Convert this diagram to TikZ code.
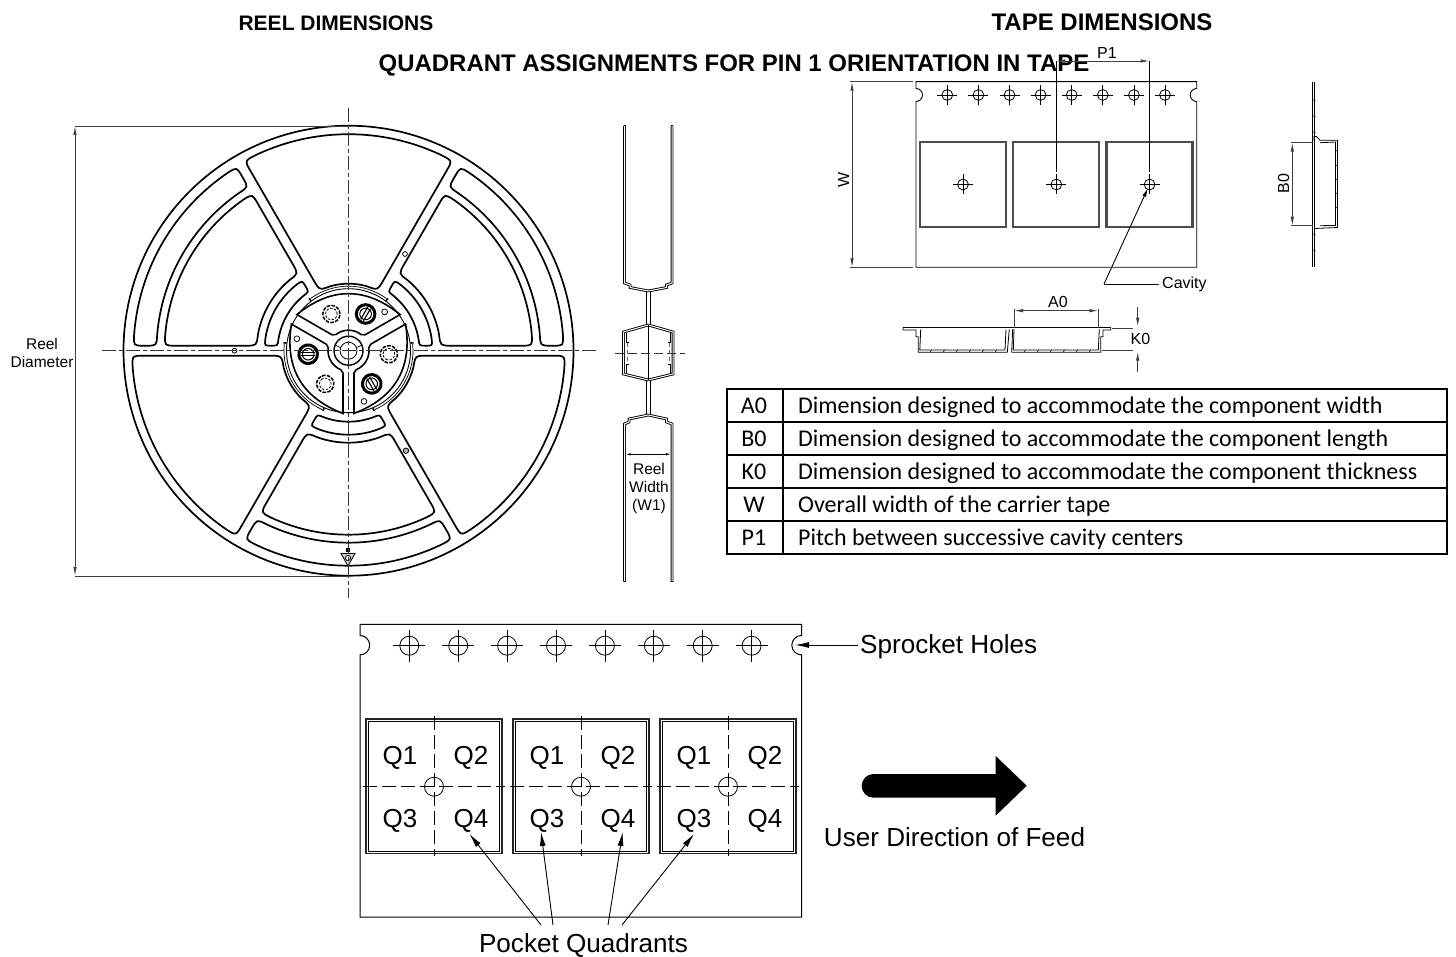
\documentclass[tikz,border=0pt]{standalone}
\usepackage{fontspec}
\setmainfont{Liberation Sans}
\newfontfamily\tablefont{Carlito}
\usetikzlibrary{arrows.meta}
\newcommand{\fs}[1]{\fontsize{#1}{#1}\selectfont}
\tikzset{
  wheel/.style={line width=1.7pt,black},
  thinl/.style={line width=.8pt,black},
  dimline/.style={line width=.9pt,black!75},
  dimboth/.style={dimline,{Latex[length=9pt,width=3.5pt]}-{Latex[length=9pt,width=3.5pt]}},
  dimtip/.style={dimline,-{Latex[length=9pt,width=3.5pt]}},
  callout/.style={line width=.9pt,black,-{Latex[length=14pt,width=6pt]}},
  centreline/.style={line width=.9pt,black!80,dash pattern=on 14pt off 3pt on 4pt off 3pt},
  pocketdash/.style={line width=.9pt,black,dash pattern=on 14pt off 5pt},
  flange/.style={line width=.9pt,double=white,double distance=1pt,black},
  small/.style={font=\fs{16}},
  smaller/.style={font=\fs{15.5},align=center},
  large/.style={font=\fs{26.1}},
  quad/.style={font=\fs{26}},
  titlehead/.style={font=\bfseries\fs{#1}},
  cell/.style={font=\tablefont\fs{24},anchor=west},
}
% rounded window between two spoke directions
\newcommand{\sectorwin}[6]{%
  \pgfmathsetmacro\aso{#1+asin(#5/(#3-#6))}%
  \pgfmathsetmacro\aco{#1+asin(#5/#3)}%
  \pgfmathsetmacro\aao{\aco+57.3*#6/#3}%
  \pgfmathsetmacro\bso{#2-asin(#5/(#3-#6))}%
  \pgfmathsetmacro\bco{#2-asin(#5/#3)}%
  \pgfmathsetmacro\bao{\bco-57.3*#6/#3}%
  \pgfmathsetmacro\asi{#1+asin(#5/(#4+#6))}%
  \pgfmathsetmacro\aci{#1+asin(#5/#4)}%
  \pgfmathsetmacro\aai{\aci+57.3*#6/#4}%
  \pgfmathsetmacro\bsi{#2-asin(#5/(#4+#6))}%
  \pgfmathsetmacro\bci{#2-asin(#5/#4)}%
  \pgfmathsetmacro\bai{\bci-57.3*#6/#4}%
  \pgfmathsetmacro\rom{#3-#6}\pgfmathsetmacro\rip{#4+#6}%
  \draw[wheel] (\aso:\rom) .. controls (\aco:#3) .. (\aao:#3)
    arc[start angle=\aao,end angle=\bao,radius=#3 pt]
    .. controls (\bco:#3) .. (\bso:\rom) -- (\bsi:\rip)
    .. controls (\bci:#4) .. (\bai:#4)
    arc[start angle=\bai,end angle=\aai,radius=#4 pt]
    .. controls (\aci:#4) .. (\asi:\rip) -- cycle;
}
\newcommand{\hole}[4]{%
  \draw[thinl] (#1,#2) circle[radius=#3 pt];
  \draw[thinl] (#1-#4,#2) -- (#1+#4,#2) (#1,#2-#4) -- (#1,#2+#4);
}
\begin{document}
\begin{tikzpicture}[x=1pt,y=-1pt]
\useasboundingbox (0,0) rectangle (1456,957);
\fill[white] (0,0) rectangle (1456,957);

% ---------- titles
\node[titlehead=21] (treel) at (336,23) {REEL DIMENSIONS};
\node[titlehead=24] (ttape) at (1102,22) {TAPE DIMENSIONS};
\node[titlehead=23.95] (tquad) at (734,65) {QUADRANT ASSIGNMENTS FOR PIN 1 ORIENTATION IN TAPE};

% ---------- reel front view
\begin{scope}[shift={(348.5,350.7)},y=1pt]
  \draw[wheel] (0,0) circle[radius=225pt];
  \foreach \s in {60,180,300}{
    \sectorwin{\s}{\s+60}{216.5}{67}{5}{12}
  }
  \foreach \s in {0,120,240}{
    \sectorwin{\s}{\s+60}{215}{192}{5}{10.5}
    \sectorwin{\s}{\s+60}{184}{92}{5}{11}
    \sectorwin{\s}{\s+60}{84}{71}{5}{6.4}
  }
  \draw[line width=.9pt] (0,0) circle[radius=62pt];
  \foreach \r in {0,120,240}{
    \begin{scope}[rotate=\r]
      \draw[line width=.7pt] (54:64.5) arc[start angle=54,end angle=126,radius=64.5pt];
      \draw[line width=1.6pt] (53:62.5) -- (53:65.5) (127:62.5) -- (127:65.5);
      % lobe
      \draw[line width=1.6pt] (35:63) -- (43.8:23) -- (52:20.5)
        arc[start angle=52,end angle=128,radius=20.5pt]
        -- (136.2:23) -- (145:63)
        .. controls (-17.2,64) and (17.2,64) .. cycle;
      % gear ring
      \draw[line width=1.5pt,dash pattern=on 3.6pt off 1.3pt] (115:40.5) circle[radius=8.6pt];
      \draw[line width=.8pt,dash pattern=on 2.5pt off 1.4pt] (115:40.5) circle[radius=5.8pt];
      % screw
      \draw[line width=3pt] (65:40.5) circle[radius=9.3pt];
      \begin{scope}[shift={(65:40.5)},rotate=60]
        \draw[line width=1.1pt] (-7,1.6) -- (7,1.6) (-7,-1.6) -- (7,-1.6);
        \draw[line width=1pt] (0,0) circle[radius=5.8pt];
      \end{scope}
      % small circle
      \draw[line width=.8pt] (47:53) circle[radius=2.9pt];
    \end{scope}
  }
  % hub centre
  \draw[line width=1.4pt] (0,0) circle[radius=14.5pt];
  \draw[line width=.8pt] (0,0) circle[radius=8.5pt];
  \draw[line width=.7pt] (-14,6) -- (-8,3) (14,6) -- (8,3) (0,-14) -- (0,-8);
  % small markers on the spokes
  \draw[line width=.8pt,fill=white] (180:114) circle[radius=2.4pt];
  \draw[line width=.8pt,fill=black!30] (57.5,-100) circle[radius=2.7pt];
  \draw[line width=.8pt,fill=white] (56.5,96.7) circle[radius=2.4pt];
\end{scope}

% recycle mark
\draw[thinl,fill=black!20] (341,553.5) -- (355,553.5) -- (348,566) -- cycle;
\fill (346,547.5) rectangle (350,552);
\draw[thinl,fill=white] (348,558) circle[radius=2.6pt];

% centre lines
\coordinate (cvt) at (348.5,108); \coordinate (cvb) at (348.5,598);
\coordinate (chl) at (102,350.7); \coordinate (chr) at (597,350.7);
\draw[centreline] (cvt) -- (cvb);
\draw[centreline] (chl) -- (chr);

% reel diameter
\coordinate (dta) at (75,126); \coordinate (dtb) at (348.5,126);
\coordinate (dba) at (75,576); \coordinate (dbb) at (348.5,576);
\draw[dimline] (dta) -- (dtb) (dba) -- (dbb);
\draw[dimboth] (dta) -- (dba);
\node[smaller] (reeldia) at (42,353) {Reel\\[2pt]Diameter};

% ---------- reel side profile
\draw[flange] (624.5,126) -- (624.5,283) -- (630,285) -- (630,287.5) -- (648.3,291);
\draw[flange] (672,126) -- (672,283) -- (666.5,285) -- (666.5,287.5) -- (648.3,291);
\draw[line width=1pt] (646.7,291) -- (646.7,325) (650,291) -- (650,325);
\draw[flange] (648.3,325) -- (623.5,332) -- (623.5,374) -- (648.3,380);
\draw[flange] (648.3,325) -- (673,332) -- (673,374) -- (648.3,380);
\draw[line width=1pt] (648.3,325) -- (648.3,380);
\draw[thinl] (626.5,333) -- (626.5,342) -- (629,342) (626.5,373) -- (626.5,364) -- (629,364);
\draw[thinl] (670,333) -- (670,342) -- (667.5,342) (670,373) -- (670,364) -- (667.5,364);
\draw[line width=.7pt,black!60,dash pattern=on 4pt off 3pt] (627,343) -- (627,364) (669.5,343) -- (669.5,364);
\draw[line width=1pt] (646.7,380) -- (646.7,415) (650,380) -- (650,415);
\draw[flange] (648.3,415) -- (629,419) -- (629,422) -- (624.5,424) -- (624.5,581.5);
\draw[flange] (648.3,415) -- (666.5,419) -- (666.5,422) -- (672,424) -- (672,581.5);
\draw[line width=1pt] (623.5,126) -- (625.5,126) (671,126) -- (673,126);
\draw[line width=1pt] (623.5,581.5) -- (625.5,581.5) (671,581.5) -- (673,581.5);
% centre line through the profile
\coordinate (pl) at (615,353); \coordinate (pr) at (685,353);
\draw[line width=.9pt,black!80,dash pattern=on 9pt off 4pt] (pl) -- (pr);
% reel width
\coordinate (rwa) at (625.7,454.3); \coordinate (rwb) at (671,454.3);
\draw[line width=.9pt,{Latex[length=5pt,width=2.5pt]}-{Latex[length=5pt,width=2.5pt]}] (rwa) -- (rwb);
\node[smaller] (reelw) at (649,488.5) {Reel\\[2.4pt]Width\\[2.4pt](W1)};

% ---------- upper tape
\draw[line width=.9pt] (916,88.5) -- (916,81.7) -- (1196.7,81.7) -- (1196.7,88.5)
   arc[start angle=90,end angle=270,radius=6.5pt] -- (1196.7,267.3) -- (916,267.3) -- (916,101.5)
   arc[start angle=-90,end angle=90,radius=6.5pt];
\foreach \x in {947.3,978.4,1009.5,1040.6,1071.7,1102.8,1133.9,1165}{\hole{\x}{95}{5.4}{10}}
\foreach \a in {920,1013.3,1106.5}{
  \draw[line width=2.1pt,black!70] (\a,142.3) rectangle ++(86,84.4);
}
\hole{963}{184.5}{5.4}{10}
\hole{1056.3}{184.5}{5.4}{10}
\hole{1149.6}{184.5}{5.4}{10}
% P1
\coordinate (p1a) at (1056.3,61); \coordinate (p1b) at (1149.6,61);
\coordinate (p1ae) at (1056.3,172); \coordinate (p1be) at (1149.6,172);
\draw[thinl] (p1a) -- (p1ae) (p1b) -- (p1be);
\draw[dimboth] (p1a) -- (p1b);
\node[small] (p1t) at (1107,53) {P1};
% W
\coordinate (wa) at (852,81.7); \coordinate (wb) at (852,267.3);
\coordinate (wae) at (913,81.7); \coordinate (wbe) at (913,267.3);
\draw[dimline] (850,81.7) -- (wae) (850,267.3) -- (wbe);
\draw[dimboth] (wa) -- (wb);
\node[small,rotate=90] (wt) at (843.5,180) {W};
% cavity
\node[small,anchor=west,inner sep=3pt] (cav) at (1159,284) {Cavity};
\coordinate (cavk) at (1104,284); \coordinate (cavtip) at (1148,188);
\draw[thinl] (cav.west) -- (cavk);
\draw[line width=.9pt,-{Latex[length=9pt,width=4pt]}] (cavk) -- (cavtip);

% ---------- B0 side view
\draw[line width=1.2pt,double=white,double distance=.5pt] (1313.3,81.7) -- (1313.3,266.7);
\foreach \y in {100,116,132,234,250}{\draw[line width=.6pt] (1313.3,\y) -- (1315.5,\y+1);}
\draw[thinl] (1314,140.7) -- (1314,136.5) -- (1316.5,136.5) -- (1320,140.3) -- (1337.5,140.3) -- (1337.5,227.5) -- (1315,228.5);
\draw[thinl] (1320,142.7) -- (1335.5,142) -- (1335.5,225.5) -- (1320,225.7);
\foreach \y in {150,165,179,193,207}{\draw[line width=.6pt] (1335.5,\y) -- (1337.5,\y+1);}
\coordinate (ba) at (1292.3,142.7); \coordinate (bb) at (1292.3,225.7);
\draw[dimline] (1290.5,142.7) -- (1313,142.7) (1290.5,225.7) -- (1313,225.7);
\draw[dimboth] (ba) -- (bb);
\node[small,rotate=90] (b0t) at (1283.5,183.3) {B0};

% ---------- A0 / K0 section
\draw[thinl] (903,327.7) -- (1110.7,327.7);
\draw[thinl] (903,327.7) -- (903,330) -- (916,330) -- (916,336.7) -- (918.3,336.7) -- (918.3,352.3) -- (1007.3,352.3) -- (1009.3,329.3);
\draw[thinl] (920.7,329.3) -- (919.8,350) -- (1005,350) -- (1006,329.3);
\draw[thinl] (1012.7,329) -- (1011.7,352.3) -- (1100.7,352.3) -- (1100.7,336.7) -- (1103,336.7) -- (1103,330) -- (1110.7,330) -- (1110.7,327.7);
\draw[thinl] (1014,329) -- (1013.3,350) -- (1098.3,350) -- (1099.3,329);
\foreach \x in {930,943,956,969,982,995}{\draw[line width=.6pt] (\x,352.3) -- (\x+1.5,350);}
\foreach \x in {1024,1037,1050,1063,1076,1089}{\draw[line width=.6pt] (\x,352.3) -- (\x+1.5,350);}
\coordinate (a0a) at (1014,310.7); \coordinate (a0b) at (1098.3,310.7);
\draw[dimline] (1014,309) -- (1014,328) (1098.3,309) -- (1098.3,328);
\draw[dimboth] (a0a) -- (a0b);
\node[small] (a0t) at (1058,302) {A0};
\coordinate (k0s) at (1137.7,306.7); \coordinate (k0t) at (1137.7,326.7);
\coordinate (k0u) at (1137.7,371.7); \coordinate (k0v) at (1137.7,351.7);
\draw[dimline] (1112,328.3) -- (1133,328.3) (1101.7,350.3) -- (1133,350.3);
\draw[dimtip] (k0s) -- (k0t);
\draw[dimtip] (k0u) -- (k0v);
\node[small,anchor=west,inner sep=0pt] (k0l) at (1130.5,339) {K0};

% ---------- table
\draw[line width=1.3pt] (727,389) rectangle (1447,554);
\foreach \y in {422,455,488,521}{\draw[line width=1.1pt] (727,\y) -- (1447,\y);}
\draw[line width=1.1pt] (783,389) -- (783,554);
\node[cell,anchor=center] (c1) at (754,406) {A0};
\node[cell,anchor=center] (c2) at (754,439) {B0};
\node[cell,anchor=center] (c3) at (754,472) {K0};
\node[cell,anchor=center] (c4) at (754,505) {W};
\node[cell,anchor=center] (c5) at (754,538) {P1};
\node[cell,inner sep=0pt] (d1) at (798,407) {Dimension designed to accommodate the component width};
\node[cell,inner sep=0pt] (d2) at (798,440) {Dimension designed to accommodate the component length};
\node[cell,inner sep=0pt] (d3) at (798,473) {Dimension designed to accommodate the component thickness};
\node[cell,inner sep=0pt] (d4) at (798,506) {Overall width of the carrier tape};
\node[cell,inner sep=0pt] (d5) at (798,539) {Pitch between successive cavity centers};

% ---------- lower tape
\draw[line width=1pt] (360,635.5) -- (360,624.3) -- (801.5,624.3) -- (801.5,635.5)
   arc[start angle=90,end angle=270,radius=9.7pt] -- (801.5,917) -- (360,917) -- (360,654.9)
   arc[start angle=-90,end angle=90,radius=9.7pt];
\foreach \x in {409.3,458.2,507.1,556,604.9,653.8,702.7,751.6}{\hole{\x}{645.7}{9.5}{16}}
\foreach \a/\c in {366/434,513/581,660/728}{
  \draw[line width=1.3pt,black!85] (\a,719) rectangle ++(136,134.4);
  \draw[line width=.8pt] (\a+2.5,721.5) rectangle ++(131,129.4);
  \draw[thinl] (\c,786.7) circle[radius=9.5pt];
  \draw[pocketdash] (\c,716) -- (\c,856);
  \draw[pocketdash] (\c-71,786.7) -- (\c+71,786.7);
  \node[quad] at (\c-34,758) {Q1};
  \node[quad] at (\c+37,758) {Q2};
  \node[quad] at (\c-34,821) {Q3};
  \node[quad] at (\c+37,821) {Q4};
}
% callouts
\node[large,anchor=west,inner sep=0pt] (spr) at (860,647) {Sprocket Holes};
\coordinate (sprtip) at (795,645);
\coordinate (sprs) at (858,645);
\draw[line width=.9pt,-{Latex[length=14pt,width=6pt]}] (sprs) -- (sprtip);
\node[large] (pq) at (583.5,946) {Pocket Quadrants};
\coordinate (pq1) at (541,925); \coordinate (pq2) at (553,925);
\coordinate (pq3) at (608,925); \coordinate (pq4) at (622,925);
\coordinate (qt1) at (469.5,834); \coordinate (qt2) at (541,832);
\coordinate (qt3) at (622.7,832); \coordinate (qt4) at (694,834);
\draw[callout] (pq1) -- (qt1);
\draw[callout] (pq2) -- (qt2);
\draw[callout] (pq3) -- (qt3);
\draw[callout] (pq4) -- (qt4);
% feed arrow
\fill (995.7,774) -- (995.7,756) -- (1026.7,785.7) -- (995.7,815.7) -- (995.7,797.7)
  -- (873.5,797.7) arc[start angle=270,end angle=90,radius=11.85pt] -- cycle;
\node[large] (feed) at (954.5,837) {User Direction of Feed};
\end{tikzpicture}
\end{document}
